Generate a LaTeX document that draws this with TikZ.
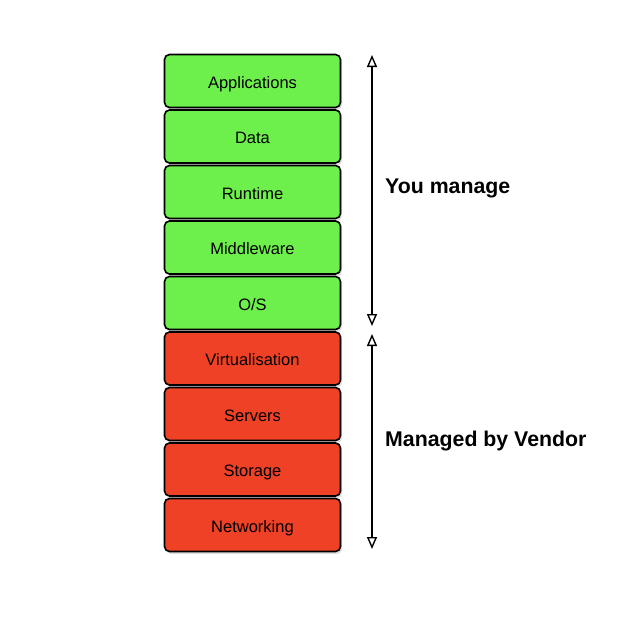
\documentclass[tikz,border=0pt]{standalone}
\usepackage{fontspec}
\setmainfont{Liberation Sans}
\usetikzlibrary{arrows.meta,shadows}
\definecolor{boxgreen}{HTML}{6DF04B}
\definecolor{boxred}{HTML}{EE4126}
\tikzset{
  layer/.style={draw=black, line width=1.6pt, rounded corners=5pt, minimum width=176pt, minimum height=53pt,
    inner sep=0pt, text height=14pt, text depth=0pt, font=\fontsize{16.5}{18}\selectfont,
    drop shadow={opacity=0.25, shadow xshift=1.5pt, shadow yshift=-2.5pt}},
  mine/.style={layer, fill=boxgreen},
  vendor/.style={layer, fill=boxred},
  tip/.style={Triangle[open,length=12pt,width=10pt,line width=1.4pt]},
  span/.style={line width=1.6pt, {Triangle[open,length=12pt,width=10pt,line width=1.4pt]}-{Triangle[open,length=12pt,width=10pt,line width=1.4pt]}},
  side/.style={anchor=base west, font=\bfseries\fontsize{21.3}{24}\selectfont, inner sep=0pt}
}
\begin{document}
\begin{tikzpicture}[x=1pt,y=-1pt]
\useasboundingbox (0,0) rectangle (640,640);
\fill[white] (0,0) rectangle (640,640);
\node[mine] (app) at (252.5,81) {Applications};
\node[mine] (data) at (252.5,136.5) {Data};
\node[mine] (run) at (252.5,192) {Runtime};
\node[mine] (mid) at (252.5,247.5) {Middleware};
\node[mine] (os) at (252.5,303) {O/S};
\node[vendor] (virt) at (252.5,358.5) {Virtualisation};
\node[vendor] (srv) at (252.5,414) {Servers};
\node[vendor] (sto) at (252.5,469.5) {Storage};
\node[vendor] (net) at (252.5,525) {Networking};
\coordinate (a1) at (372,55);
\coordinate (a2) at (372,326);
\coordinate (b1) at (372,334);
\coordinate (b2) at (372,549);
\draw[span] (a1) -- (a2);
\draw[span] (b1) -- (b2);
\node[side] (you) at (385,193) {You manage};
\node[side] (ven) at (385,446) {Managed by Vendor};
\end{tikzpicture}
\end{document}
